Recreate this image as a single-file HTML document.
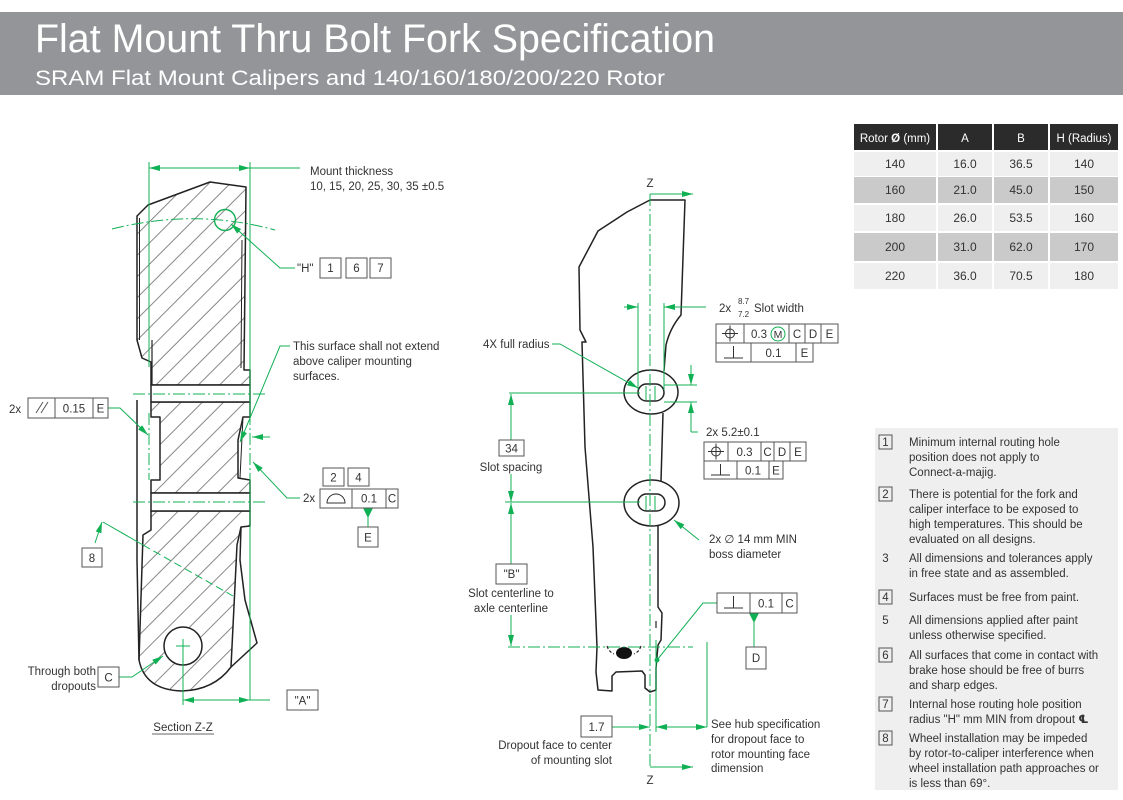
<!DOCTYPE html>
<html><head><meta charset="utf-8"><style>
html,body{margin:0;padding:0;background:#fff;}
svg{display:block;}
</style></head><body>
<svg width="1123" height="800" viewBox="0 0 1123 800" xmlns="http://www.w3.org/2000/svg" font-family="'Liberation Sans', 'DejaVu Sans', sans-serif">
<defs>
<pattern id="h" patternUnits="userSpaceOnUse" width="15" height="15" patternTransform="rotate(45)">
<line x1="7.5" y1="-1" x2="7.5" y2="16" stroke="#555" stroke-width="0.7"/>
</pattern>
<marker id="a" viewBox="0 0 11 6" refX="11" refY="3" markerWidth="11" markerHeight="6" markerUnits="userSpaceOnUse" orient="auto-start-reverse">
<path d="M0,0L11,3L0,6z" fill="#10b054"/>
</marker>
</defs>

<!-- Header -->
<rect x="0" y="12" width="1123" height="83" fill="#939598"/>
<text x="35" y="52" font-size="40" fill="#fff" textLength="680" lengthAdjust="spacingAndGlyphs">Flat Mount Thru Bolt Fork Specification</text>
<text x="35" y="85" font-size="21.5" fill="#fff" textLength="630" lengthAdjust="spacingAndGlyphs">SRAM Flat Mount Calipers and 140/160/180/200/220 Rotor</text>

<!-- ============ LEFT SECTION Z-Z ============ -->
<g fill="none" stroke="#222" stroke-width="1.5" stroke-linejoin="round">
<path fill="url(#h)" d="M137,216 L148,205 L210,182 L246,187 L244,370 L250,370 L250,385 L151,385 L151,362 L142,358 L137,340 Z"/>
<path fill="url(#h)" d="M151,402 L250,402 L250,417 L243,417 L238,440 L238,478 L250,480 L250,493 L151,493 L151,480 L160,480 L160,417 L151,417 Z"/>
<path fill="url(#h)" d="M151,511 L250,511 L250,526 L241,527 L237,545 L231,667 Q214,690 182,691 Q145,690 139,660 L143,535 L151,530 Z"/>
<rect x="151" y="385" width="99" height="17" fill="#fff"/>
<rect x="151" y="493" width="99" height="18" fill="#fff"/>
<path d="M241,527 L240,560 L245,600 L257,643 L231,667"/>
<path d="M137,400 L137,560 L139,660"/>
<path d="M152,340 L152,385" stroke-width="1.2"/>
<path d="M139.5,218 L139.5,340" stroke-width="1"/>
<path d="M242,240 L241,368" stroke-width="1"/>
<path d="M243,417 L240,478" stroke-width="1"/>
<circle cx="183" cy="646" r="19" fill="#fff"/>
</g>

<g fill="none" stroke="#10b054" stroke-width="1">
<!-- mount thickness -->
<line x1="149" y1="168" x2="250" y2="168" marker-start="url(#a)" marker-end="url(#a)"/>
<line x1="250" y1="168" x2="300" y2="168"/>
<line x1="149" y1="162" x2="149" y2="367"/>
<line x1="250" y1="162" x2="250" y2="413"/>
<line x1="250" y1="480" x2="250" y2="700"/>
<line x1="149" y1="413" x2="149" y2="480" stroke-dasharray="12 3 2 3"/>
<line x1="250" y1="413" x2="250" y2="480" stroke-dasharray="12 3 2 3"/>
<!-- arc and hole -->
<path d="M112,229 Q195,208 275,230" stroke-dasharray="12 3 2 3"/>
<circle cx="225" cy="220" r="10.5" stroke-width="1.4"/>
<polyline points="295,268 280,268 231,224" marker-end="url(#a)"/>
<!-- this surface leader -->
<polyline points="290,346 280,346 240,442" marker-end="url(#a)"/>
<!-- channel centerlines -->
<line x1="133" y1="394" x2="267" y2="394" stroke-dasharray="12 3 2 3"/>
<line x1="133" y1="502" x2="267" y2="502" stroke-dasharray="12 3 2 3"/>
<!-- parallel leader -->
<polyline points="108,408 120,408 148,435" marker-end="url(#a)"/>
<!-- right arrow -->
<line x1="270" y1="437" x2="252" y2="437" marker-end="url(#a)"/>
<polyline points="300,498 287,498 253,462" marker-end="url(#a)"/>
<!-- datum E -->
<line x1="368" y1="516" x2="368" y2="527"/>
<!-- 8 -->
<line x1="95" y1="543" x2="102" y2="522" marker-end="url(#a)"/>
<line x1="103" y1="522" x2="143" y2="545"/>
<line x1="143" y1="545" x2="233" y2="596" stroke-dasharray="8 4"/>
<!-- hole center -->
<line x1="176" y1="646" x2="190" y2="646"/>
<line x1="183" y1="639" x2="183" y2="705"/>
<!-- A dim -->
<line x1="183" y1="700" x2="250" y2="700" marker-start="url(#a)" marker-end="url(#a)"/>
<line x1="250" y1="700" x2="270" y2="700"/>
<!-- C leader -->
<polyline points="119,677 132,677 163,656" marker-end="url(#a)"/>
</g>
<polygon points="363,508 373,508 368,518" fill="#10b054"/>

<!-- left FCFs and boxes -->
<g fill="none" stroke="#555" stroke-width="1">
<rect x="28" y="398" width="80" height="20"/>
<line x1="55" y1="398" x2="55" y2="418"/><line x1="93" y1="398" x2="93" y2="418"/>
<line x1="36" y1="413" x2="43" y2="402"/><line x1="41" y1="413" x2="48" y2="402"/>
<rect x="320" y="258" width="21" height="20"/>
<rect x="346" y="258" width="21" height="20"/>
<rect x="370" y="258" width="21" height="20"/>
<rect x="323" y="468" width="21" height="18"/>
<rect x="348" y="468" width="21" height="18"/>
<rect x="320" y="489" width="78" height="19"/>
<line x1="352" y1="489" x2="352" y2="508"/><line x1="386" y1="489" x2="386" y2="508"/>
<path d="M327,503 A9,9 0 0 1 345,503 Z" stroke="#333"/>
<rect x="358" y="527" width="20" height="20"/>
<rect x="82" y="548" width="20" height="19"/>
<rect x="98" y="667" width="21" height="20"/>
<rect x="287" y="690" width="31" height="20"/>
</g>

<g font-size="11.5" fill="#333">
<text x="310" y="175">Mount thickness</text>
<text x="310" y="190">10, 15, 20, 25, 30, 35 ±0.5</text>
<text x="297" y="272">"H"</text>
<text x="330.5" y="272" text-anchor="middle">1</text>
<text x="356.5" y="272" text-anchor="middle">6</text>
<text x="380.5" y="272" text-anchor="middle">7</text>
<text x="293" y="350">This surface shall not extend</text>
<text x="293" y="365">above caliper mounting</text>
<text x="293" y="380">surfaces.</text>
<text x="9" y="413">2x</text>
<text x="74" y="412.5" text-anchor="middle">0.15</text>
<text x="100.5" y="412.5" text-anchor="middle">E</text>
<text x="303" y="502">2x</text>
<text x="333.5" y="481.5" text-anchor="middle">2</text>
<text x="358.5" y="481.5" text-anchor="middle">4</text>
<text x="369" y="502.5" text-anchor="middle">0.1</text>
<text x="392" y="502.5" text-anchor="middle">C</text>
<text x="368" y="541.5" text-anchor="middle">E</text>
<text x="92" y="562" text-anchor="middle">8</text>
<text x="96" y="675" text-anchor="end">Through both</text>
<text x="96" y="690" text-anchor="end">dropouts</text>
<text x="108.5" y="681.5" text-anchor="middle">C</text>
<text x="302.5" y="704.5" text-anchor="middle">"A"</text>
<text x="183" y="731" text-anchor="middle">Section Z-Z</text>
</g>
<line x1="152" y1="734" x2="214" y2="734" stroke="#333" stroke-width="0.8"/>

<!-- ============ MIDDLE FORK VIEW ============ -->
<g fill="none" stroke="#222" stroke-width="1.5" stroke-linejoin="round">
<path d="M650,200 L685,200 L681,315 Q670,328 666,345 L664,371"/>
<path d="M650,200 L627,212 L598,231 L579,267 L580,330 L586,342 L582,342 L585,447 L593,547 L597,647 L596,672 L598,690 L612,691 L612,676 L616,672 L642,671 L645,675 L645,688 L650,692 L656,690 L656,668 L658,645 L661,640 L662,613 L658,607 L658,526"/>
<path d="M663,413 L661,481"/>
<ellipse cx="651" cy="392" rx="27" ry="22" fill="#fff"/>
<ellipse cx="651.5" cy="503" rx="27.5" ry="23" fill="#fff"/>
<rect x="638" y="384" width="26" height="17" rx="8.5"/>
<rect x="638" y="494" width="27" height="17" rx="8.5"/>
<path d="M607,646 Q609,652 614,654" stroke-dasharray="3 2" stroke-width="1.2"/>
<path d="M641,646 Q639,652 634,654" stroke-dasharray="3 2" stroke-width="1.2"/>
<line x1="656" y1="621" x2="656" y2="628" stroke-width="1.2"/>
</g>
<ellipse cx="624" cy="653" rx="8" ry="6" fill="#111"/>

<g fill="none" stroke="#10b054" stroke-width="1">
<line x1="650" y1="194" x2="693" y2="194" marker-end="url(#a)"/>
<line x1="650" y1="194" x2="650" y2="767" stroke-dasharray="12 3 2 3"/>
<line x1="650" y1="767" x2="693" y2="767" marker-end="url(#a)"/>
<!-- slot ticks -->
<line x1="646" y1="386" x2="646" y2="400"/><line x1="655" y1="386" x2="655" y2="400"/>
<line x1="646" y1="496" x2="646" y2="510"/><line x1="655" y1="496" x2="655" y2="510"/>
<!-- slot width -->
<line x1="638" y1="303" x2="638" y2="390"/>
<line x1="664" y1="303" x2="664" y2="390"/>
<line x1="624" y1="307" x2="638" y2="307" marker-end="url(#a)"/>
<line x1="706" y1="307" x2="664" y2="307" marker-end="url(#a)"/>
<!-- 4x full radius -->
<polyline points="552,344 560,344 638,388" marker-end="url(#a)"/>
<!-- 5.2 -->
<line x1="664" y1="385" x2="697" y2="385"/>
<line x1="664" y1="402" x2="697" y2="402"/>
<line x1="691" y1="365" x2="691" y2="385" marker-end="url(#a)"/>
<line x1="691" y1="432" x2="691" y2="402" marker-end="url(#a)"/>
<line x1="691" y1="432" x2="698" y2="432"/>
<!-- slot spacing -->
<line x1="509" y1="393" x2="640" y2="393"/>
<line x1="505" y1="502" x2="640" y2="502"/>
<line x1="511" y1="440" x2="511" y2="394" marker-end="url(#a)"/>
<line x1="511" y1="474" x2="511" y2="502" marker-end="url(#a)"/>
<line x1="511" y1="564" x2="511" y2="503" marker-end="url(#a)"/>
<line x1="511" y1="615" x2="511" y2="646" marker-end="url(#a)"/>
<line x1="508" y1="647" x2="693" y2="647" stroke-dasharray="12 3 2 3"/>
<!-- boss leader -->
<polyline points="699,540 674,520" marker-end="url(#a)"/>
<!-- FCF3 leader -->
<polyline points="657,660 703,603 717,603"/>
<line x1="754" y1="621" x2="754" y2="647"/>
<!-- 1.7 -->
<line x1="656" y1="640" x2="656" y2="732"/>
<line x1="707" y1="642" x2="707" y2="727"/>
<line x1="612" y1="727" x2="650" y2="727" marker-end="url(#a)"/>
<line x1="656" y1="727" x2="707" y2="727" marker-start="url(#a)" marker-end="url(#a)"/>
<circle cx="778" cy="334" r="7"/>
</g>
<circle cx="657" cy="660" r="2.5" fill="#10b054"/>
<polygon points="749,613 759,613 754,623" fill="#10b054"/>

<!-- middle FCFs -->
<g fill="none" stroke="#555" stroke-width="1">
<rect x="716" y="324" width="122" height="19"/>
<line x1="744" y1="324" x2="744" y2="343"/><line x1="789" y1="324" x2="789" y2="343"/><line x1="805" y1="324" x2="805" y2="343"/><line x1="821" y1="324" x2="821" y2="343"/>
<rect x="716" y="343" width="97" height="19"/>
<line x1="751" y1="343" x2="751" y2="362"/><line x1="796" y1="343" x2="796" y2="362"/>
<circle cx="730" cy="333.5" r="4.5" stroke="#333"/>
<line x1="722" y1="333.5" x2="738" y2="333.5" stroke="#333"/><line x1="730" y1="325.5" x2="730" y2="341.5" stroke="#333"/>
<line x1="733.5" y1="346" x2="733.5" y2="358" stroke="#333"/><line x1="724" y1="358" x2="743" y2="358" stroke="#333"/>

<rect x="704" y="442" width="102" height="19"/>
<line x1="728" y1="442" x2="728" y2="461"/><line x1="761" y1="442" x2="761" y2="461"/><line x1="774" y1="442" x2="774" y2="461"/><line x1="790" y1="442" x2="790" y2="461"/>
<rect x="704" y="461" width="79" height="18"/>
<line x1="737" y1="461" x2="737" y2="479"/><line x1="769" y1="461" x2="769" y2="479"/>
<circle cx="716" cy="451.5" r="4.5" stroke="#333"/>
<line x1="708" y1="451.5" x2="724" y2="451.5" stroke="#333"/><line x1="716" y1="443.5" x2="716" y2="459.5" stroke="#333"/>
<line x1="720.5" y1="464" x2="720.5" y2="475" stroke="#333"/><line x1="711" y1="475" x2="730" y2="475" stroke="#333"/>

<rect x="717" y="593" width="80" height="20"/>
<line x1="750" y1="593" x2="750" y2="613"/><line x1="782" y1="593" x2="782" y2="613"/>
<line x1="733.5" y1="596" x2="733.5" y2="608" stroke="#333"/><line x1="724" y1="608" x2="743" y2="608" stroke="#333"/>
<rect x="746" y="647" width="20" height="22"/>

<rect x="499" y="440" width="25" height="16"/>
<rect x="496" y="564" width="31" height="20"/>
<rect x="581" y="716" width="31" height="21"/>
</g>

<g font-size="11.5" fill="#333">
<text x="650" y="187" text-anchor="middle">Z</text>
<text x="650" y="784" text-anchor="middle">Z</text>
<text x="483" y="348">4X full radius</text>
<text x="719" y="312">2x</text>
<text x="738" y="304" font-size="8">8.7</text>
<text x="738" y="317" font-size="8">7.2</text>
<text x="754" y="312">Slot width</text>
<text x="751" y="338">0.3</text>
<text x="778" y="338" text-anchor="middle" font-size="10.5">M</text>
<text x="797" y="338" text-anchor="middle">C</text>
<text x="813" y="338" text-anchor="middle">D</text>
<text x="829.5" y="338" text-anchor="middle">E</text>
<text x="773.5" y="357" text-anchor="middle">0.1</text>
<text x="804.5" y="357" text-anchor="middle">E</text>
<text x="706" y="436">2x 5.2±0.1</text>
<text x="744.5" y="456" text-anchor="middle">0.3</text>
<text x="767.5" y="456" text-anchor="middle">C</text>
<text x="782" y="456" text-anchor="middle">D</text>
<text x="798" y="456" text-anchor="middle">E</text>
<text x="753" y="474.5" text-anchor="middle">0.1</text>
<text x="776" y="474.5" text-anchor="middle">E</text>
<text x="511.5" y="452.5" text-anchor="middle">34</text>
<text x="511" y="471" text-anchor="middle">Slot spacing</text>
<text x="511.5" y="578" text-anchor="middle">"B"</text>
<text x="511" y="597" text-anchor="middle">Slot centerline to</text>
<text x="511" y="612" text-anchor="middle">axle centerline</text>
<text x="709" y="543">2x ∅ 14 mm MIN</text>
<text x="709" y="558">boss diameter</text>
<text x="766" y="607.5" text-anchor="middle">0.1</text>
<text x="789.5" y="607.5" text-anchor="middle">C</text>
<text x="756" y="662" text-anchor="middle">D</text>
<text x="596.5" y="731" text-anchor="middle">1.7</text>
<text x="612" y="749" text-anchor="end">Dropout face to center</text>
<text x="612" y="764" text-anchor="end">of mounting slot</text>
<text x="711" y="728">See hub specification</text>
<text x="711" y="743">for dropout face to</text>
<text x="711" y="758">rotor mounting face</text>
<text x="711" y="772">dimension</text>
</g>

<!-- ============ TABLE ============ -->
<g>
<rect x="854" y="124" width="82" height="26" fill="#2b2b2b"/>
<rect x="938" y="124" width="54" height="26" fill="#2b2b2b"/>
<rect x="994" y="124" width="54" height="26" fill="#2b2b2b"/>
<rect x="1050" y="124" width="68" height="26" fill="#2b2b2b"/>

<rect x="854" y="152" width="82" height="24" fill="#efefef"/><rect x="938" y="152" width="54" height="24" fill="#efefef"/><rect x="994" y="152" width="54" height="24" fill="#efefef"/><rect x="1050" y="152" width="68" height="24" fill="#efefef"/>
<rect x="854" y="177" width="82" height="26" fill="#cacaca"/><rect x="938" y="177" width="54" height="26" fill="#cacaca"/><rect x="994" y="177" width="54" height="26" fill="#cacaca"/><rect x="1050" y="177" width="68" height="26" fill="#cacaca"/>
<rect x="854" y="205" width="82" height="26" fill="#efefef"/><rect x="938" y="205" width="54" height="26" fill="#efefef"/><rect x="994" y="205" width="54" height="26" fill="#efefef"/><rect x="1050" y="205" width="68" height="26" fill="#efefef"/>
<rect x="854" y="233" width="82" height="28" fill="#cacaca"/><rect x="938" y="233" width="54" height="28" fill="#cacaca"/><rect x="994" y="233" width="54" height="28" fill="#cacaca"/><rect x="1050" y="233" width="68" height="28" fill="#cacaca"/>
<rect x="854" y="263" width="82" height="26" fill="#efefef"/><rect x="938" y="263" width="54" height="26" fill="#efefef"/><rect x="994" y="263" width="54" height="26" fill="#efefef"/><rect x="1050" y="263" width="68" height="26" fill="#efefef"/>
</g>
<g font-size="11.5" fill="#fff" text-anchor="middle">
<text x="895" y="142">Rotor <tspan font-weight="bold">Ø</tspan> (mm)</text>
<text x="965" y="142">A</text>
<text x="1021" y="142">B</text>
<text x="1084" y="142">H (Radius)</text>
</g>
<g font-size="12" fill="#333" text-anchor="middle">
<text x="895" y="168">140</text><text x="965" y="168">16.0</text><text x="1021" y="168">36.5</text><text x="1084" y="168">140</text>
<text x="895" y="194">160</text><text x="965" y="194">21.0</text><text x="1021" y="194">45.0</text><text x="1084" y="194">150</text>
<text x="895" y="222">180</text><text x="965" y="222">26.0</text><text x="1021" y="222">53.5</text><text x="1084" y="222">160</text>
<text x="895" y="251">200</text><text x="965" y="251">31.0</text><text x="1021" y="251">62.0</text><text x="1084" y="251">170</text>
<text x="895" y="280">220</text><text x="965" y="280">36.0</text><text x="1021" y="280">70.5</text><text x="1084" y="280">180</text>
</g>

<!-- ============ NOTES ============ -->
<rect x="875" y="428" width="243" height="362" fill="#efefef"/>
<g fill="none" stroke="#555" stroke-width="1">
<rect x="879" y="435" width="13" height="14"/>
<rect x="879" y="487" width="13" height="14"/>
<rect x="879" y="590" width="13" height="14"/>
<rect x="879" y="648" width="13" height="14"/>
<rect x="879" y="697" width="13" height="14"/>
<rect x="879" y="731" width="13" height="14"/>
</g>
<g font-size="11.5" fill="#333">
<text x="885.5" y="446" text-anchor="middle">1</text>
<text x="885.5" y="498" text-anchor="middle">2</text>
<text x="885.5" y="562" text-anchor="middle">3</text>
<text x="885.5" y="601" text-anchor="middle">4</text>
<text x="885.5" y="624" text-anchor="middle">5</text>
<text x="885.5" y="659" text-anchor="middle">6</text>
<text x="885.5" y="708" text-anchor="middle">7</text>
<text x="885.5" y="742" text-anchor="middle">8</text>

<text x="909" y="446">Minimum internal routing hole</text>
<text x="909" y="461">position does not apply to</text>
<text x="909" y="476">Connect-a-majig.</text>
<text x="909" y="498">There is potential for the fork and</text>
<text x="909" y="513">caliper interface to be exposed to</text>
<text x="909" y="528">high temperatures. This should be</text>
<text x="909" y="543">evaluated on all designs.</text>
<text x="909" y="562">All dimensions and tolerances apply</text>
<text x="909" y="577">in free state and as assembled.</text>
<text x="909" y="601">Surfaces must be free from paint.</text>
<text x="909" y="624">All dimensions applied after paint</text>
<text x="909" y="639">unless otherwise specified.</text>
<text x="909" y="659">All surfaces that come in contact with</text>
<text x="909" y="674">brake hose should be free of burrs</text>
<text x="909" y="689">and sharp edges.</text>
<text x="909" y="708">Internal hose routing hole position</text>
<text x="909" y="723">radius "H" mm MIN from dropout <tspan font-family="'DejaVu Sans', sans-serif" font-weight="bold">℄</tspan></text>
<text x="909" y="742">Wheel installation may be impeded</text>
<text x="909" y="757">by rotor-to-caliper interference when</text>
<text x="909" y="772">wheel installation path approaches or</text>
<text x="909" y="787">is less than 69°.</text>
</g>
</svg>
</body></html>
